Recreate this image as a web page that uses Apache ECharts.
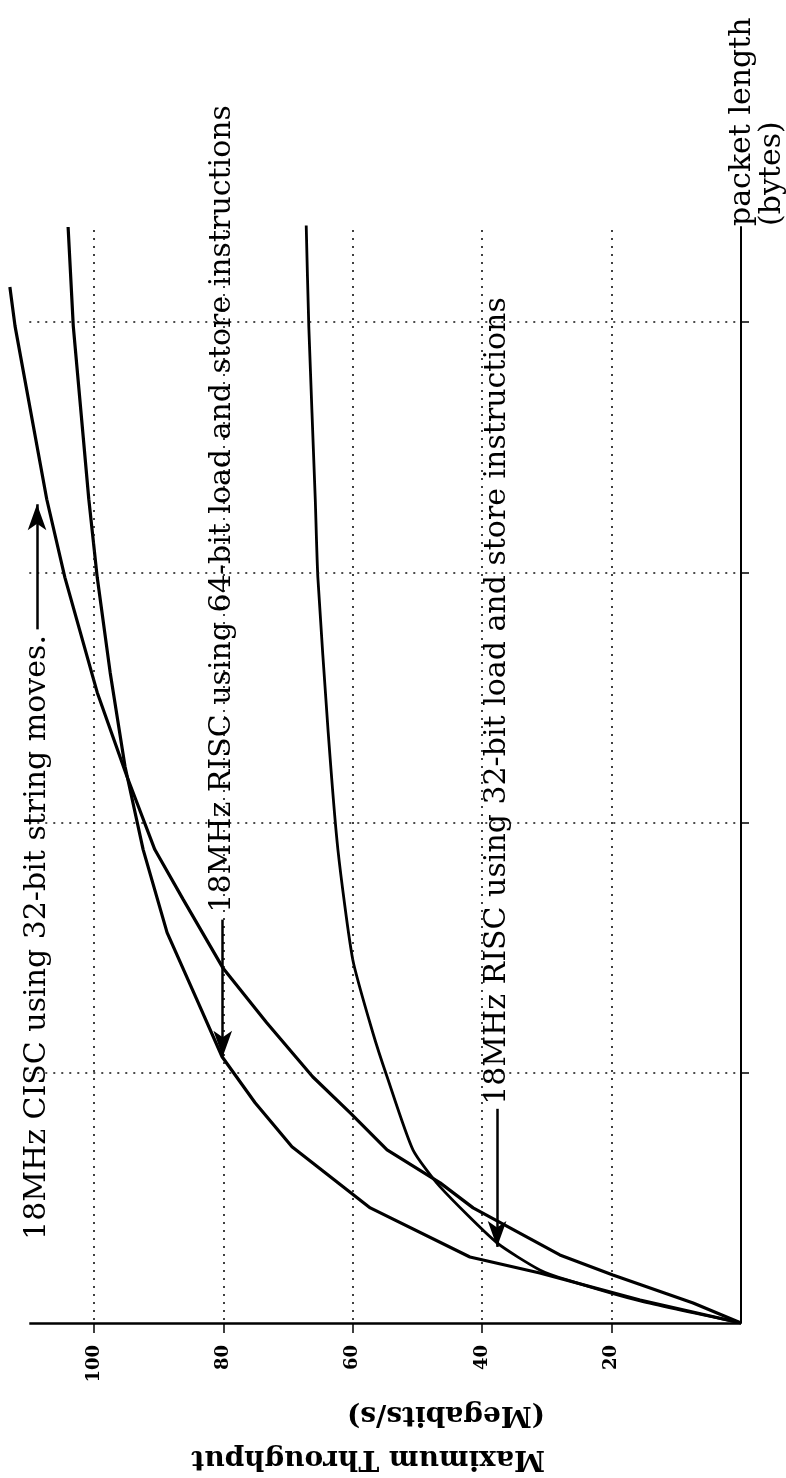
<!DOCTYPE html>
<html>
<head>
<meta charset="utf-8">
<script src="https://cdn.jsdelivr.net/npm/echarts@6/dist/echarts.min.js"></script>
<style>
  html, body { margin: 0; padding: 0; background: #fff; }
  #main { width: 786px; height: 1478px; }
</style>
</head>
<body>
<div id="main"></div>
<script>
// throughput (Megabits/s) vs packet length (bytes); the figure is printed turned on its side
var throughputTicks = [20, 40, 60, 80, 100];
var lengthTicks = [250, 500, 750, 1000];
var throughputEnd = 110;   // where the printed axis and grid stop
var lengthEnd = 1092;

// [throughput, packet length]
var ciscString32 = [[0, 0], [7.4, 20], [19.8, 48], [28.0, 68], [41.4, 115], [46.5, 140], [54.7, 173],
    [60.4, 210], [66.2, 246], [73.3, 300], [80.1, 355], [86.2, 423], [90.6, 473], [94.9, 546],
    [99.5, 630], [104.5, 745], [107.3, 823], [112.2, 996], [113.0, 1035]];
var risc64 = [[0, 0], [15.6, 23], [31.1, 50], [41.9, 66], [57.3, 115], [69.4, 176], [75.1, 220],
    [80.2, 266], [84.1, 323], [88.7, 390], [92.4, 473], [95.2, 556], [97.5, 650], [99.5, 745],
    [100.8, 823], [103.2, 996], [104.0, 1095]];
var risc32 = [[0, 0], [15.6, 22], [26.9, 43], [31.1, 53], [37.7, 80], [46.5, 136], [50.7, 173],
    [54.7, 246], [56.9, 290], [60.0, 363], [62.3, 473], [63.8, 590], [65.4, 745], [65.8, 823],
    [66.8, 996], [67.2, 1097]];

var curveLabels = ['18MHz CISC using 32-bit string moves.',
    '18MHz RISC using 64-bit load and store instructions',
    '18MHz RISC using 32-bit load and store instructions'];
// where each label starts (bottom end of the turned text)
var labelAnchors = [[108.7, 83], [80.2, 410], [37.7, 218]];
// arrows from label to curve: [from, to]
var arrows = [[[108.8, 693], [108.8, 818]], [[80.1, 403], [80.1, 266]], [[37.7, 214], [37.7, 76]]];

var dom = document.getElementById('main');
var myChart = echarts.init(dom, null, { renderer: 'canvas' });

function arrowLine(a) {
    return {
        silent: true,
        symbol: ['none', 'arrow'],
        symbolSize: [14, 26],
        label: { show: false },
        lineStyle: { color: '#000', width: 2.5, type: 'solid' },
        emphasis: { disabled: true },
        data: [[{ coord: a[0] }, { coord: a[1] }]]
    };
}

// dotted grid lines and the throughput base line, stopping where the printed frame stops
var frameLines = [[{ coord: [throughputEnd, 0], lineStyle: { type: 'solid', width: 2.5, color: '#000' } }, { coord: [0, 0] }]];
lengthTicks.forEach(function (L) {
    frameLines.push([{ coord: [throughputEnd, L] }, { coord: [0, L] }]);
});
throughputTicks.forEach(function (T) {
    frameLines.push([{ coord: [T, lengthEnd] }, { coord: [T, 0] }]);
});

var option = {
    animation: false,
    backgroundColor: '#fff',
    grid: { left: 3.4, right: 45, top: 227, bottom: 155 },
    xAxis: {
        type: 'value',
        inverse: true,
        min: 0,
        max: 114,
        interval: 20,
        axisLine: { show: false },
        axisTick: { show: true, length: 10, customValues: throughputTicks, lineStyle: { color: '#000', width: 1.5 } },
        axisLabel: {
            rotate: 90,
            margin: 22,
            color: '#000',
            fontFamily: 'DejaVu Serif',
            fontWeight: 'bold',
            fontSize: 18,
            customValues: throughputTicks,
            formatter: function (v) { return throughputTicks.indexOf(v) >= 0 ? String(v) : ''; }
        },
        splitLine: { show: false }
    },
    yAxis: {
        type: 'value',
        position: 'right',
        min: 0,
        max: 1095,
        interval: 250,
        axisLine: { show: true, onZero: false, lineStyle: { color: '#000', width: 2 } },
        axisTick: { show: true, length: 8, customValues: lengthTicks, lineStyle: { color: '#000', width: 1.5 } },
        axisLabel: { show: false },
        splitLine: { show: false }
    },
    series: [
        {
            name: 'frame',
            type: 'line',
            data: [],
            silent: true,
            markLine: {
                silent: true,
                symbol: ['none', 'none'],
                label: { show: false },
                lineStyle: { color: '#111', width: 1.6, type: [2, 6] },
                emphasis: { disabled: true },
                data: frameLines
            }
        },
        {
            name: curveLabels[0],
            type: 'line',
            data: ciscString32,
            symbol: 'none',
            lineStyle: { color: '#000', width: 3.2 },
            markLine: arrowLine(arrows[0])
        },
        {
            name: curveLabels[1],
            type: 'line',
            data: risc64,
            symbol: 'none',
            lineStyle: { color: '#000', width: 3.2 },
            markLine: arrowLine(arrows[1])
        },
        {
            name: curveLabels[2],
            type: 'line',
            data: risc32,
            symbol: 'none',
            smooth: 0.2,
            lineStyle: { color: '#000', width: 2.8 },
            markLine: arrowLine(arrows[2])
        }
    ]
};

myChart.setOption(option);

var graphics = [];
for (var i = 0; i < curveLabels.length; i++) {
    var p = myChart.convertToPixel({ gridIndex: 0 }, labelAnchors[i]);
    graphics.push({
        type: 'text',
        x: p[0],
        y: p[1],
        rotation: Math.PI / 2,
        silent: true,
        style: {
            text: curveLabels[i],
            font: '30px "DejaVu Serif"',
            fill: '#000',
            align: 'left',
            verticalAlign: 'middle'
        }
    });
}
// packet length axis title
graphics.push({
    type: 'text',
    x: 727,
    y: 226,
    rotation: Math.PI / 2,
    silent: true,
    style: {
        text: 'packet length\n(bytes)',
        font: '30px "DejaVu Serif"',
        lineHeight: 30,
        fill: '#000',
        align: 'left',
        verticalAlign: 'top'
    }
});
// throughput axis title, printed upside down
graphics.push({
    type: 'text',
    x: 545,
    y: 1480,
    rotation: Math.PI,
    silent: true,
    style: {
        text: 'Maximum Throughput\n(Megabits/s)',
        font: 'bold 28px "DejaVu Serif"',
        lineHeight: 44,
        fill: '#000',
        align: 'left',
        verticalAlign: 'top'
    }
});

myChart.setOption({ graphic: graphics });

window.addEventListener('resize', myChart.resize);
</script>
</body>
</html>
